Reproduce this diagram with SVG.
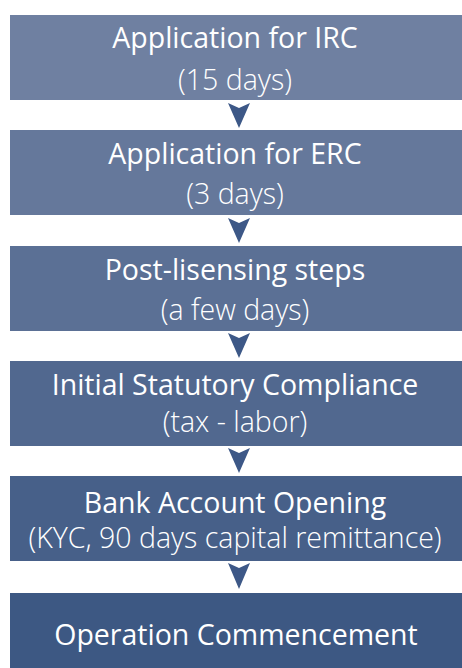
<svg xmlns="http://www.w3.org/2000/svg" width="462" height="668" viewBox="0 0 462 668">
<style>
.t{font-family:"Open Sans","Liberation Sans",sans-serif;font-size:28.5px;fill:#ffffff;text-anchor:middle}
.s{font-weight:300}
.arr{fill:#3d5887}
</style>
<rect width="462" height="668" fill="#ffffff"/>
<g id="n1"><rect x="10" y="15" width="452" height="85" fill="#6f80a1"/><text class="t" x="235" y="48">Application for IRC</text><text class="t s" x="235" y="90">(15 days)</text></g>
<g id="n2"><rect x="10" y="130" width="452" height="85" fill="#65789b"/><text class="t" x="235" y="164">Application for ERC</text><text class="t s" x="235" y="204">(3 days)</text></g>
<g id="n3"><rect x="10" y="246" width="452" height="85" fill="#5b7095"/><text class="t" x="235" y="280">Post-lisensing steps</text><text class="t s" x="235" y="320">(a few days)</text></g>
<g id="n4"><rect x="10" y="361" width="452" height="85" fill="#51688f"/><text class="t" x="235" y="395">Initial Statutory Compliance</text><text class="t s" x="235" y="432">(tax - labor)</text></g>
<g id="n5"><rect x="10" y="476" width="452" height="85" fill="#476089"/><text class="t" x="235" y="513">Bank Account Opening</text><text class="t s" x="235" y="548">(KYC, 90 days capital remittance)</text></g>
<g id="n6"><rect x="10" y="593" width="452" height="75" fill="#3d5883"/><text class="t" x="236" y="645">Operation Commencement</text></g>
<g id="connectors">
<path class="arr" d="M228,103 L239,108 L250,103 L239,128 Z"/>
<path class="arr" d="M228,218 L239,223 L250,218 L239,243 Z"/>
<path class="arr" d="M228,333 L239,338 L250,333 L239,358 Z"/>
<path class="arr" d="M228,448 L239,453 L250,448 L239,473 Z"/>
<path class="arr" d="M228,563 L239,568 L250,563 L239,589 Z"/>
</g>
</svg>
